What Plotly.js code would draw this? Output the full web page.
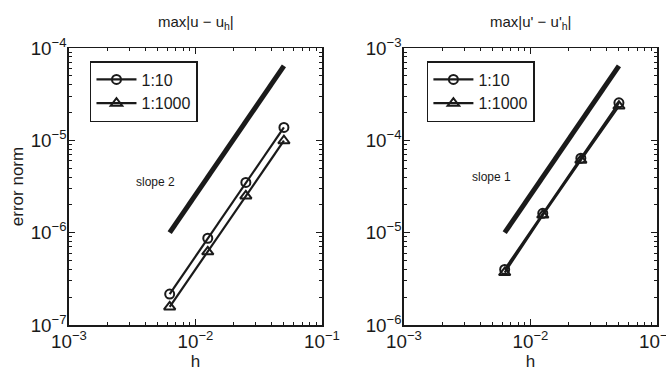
<!DOCTYPE html>
<html>
<head>
<meta charset="utf-8">
<script src="https://cdn.plot.ly/plotly-3.0.1.min.js"></script>
<style>html,body{margin:0;padding:0;background:#fff;}#chart{width:666px;height:374px;}</style>
</head>
<body>
<div id="chart"></div>
<script>
// Data
var h = [0.00625, 0.0125, 0.025, 0.05];
var errU_10 = [2.16e-7, 8.7e-7, 3.5e-6, 1.38e-5];
var errU_1000 = [1.57e-7, 6.2e-7, 2.5e-6, 9.9e-6];
var errDU_10 = [4.0e-6, 1.62e-5, 6.4e-5, 2.55e-4];
var errDU_1000 = [3.7e-6, 1.55e-5, 6.1e-5, 2.35e-4];
var slopeX = [0.00625, 0.05];
var slopeU = [1.0e-6, 6.4e-5];
var slopeDU = [1.0e-5, 6.4e-4];
var seriesNames = ['1:10', '1:1000'];
var titles = ['max|u \u2212 u<sub>h</sub>|', "max|u' \u2212 u'<sub>h</sub>|"];
var slopeLabels = ['slope 2', 'slope 1'];

var ink = '#1a1a1a';
var fontFam = 'Arial, "Liberation Sans", Helvetica, sans-serif';

function dataTrace(x, y, name, sym, xa, ya, leg) {
  return {x: x, y: y, name: name, xaxis: xa, yaxis: ya, legend: leg,
    mode: 'lines+markers', type: 'scatter',
    line: {color: ink, width: 2.2},
    marker: {symbol: sym, size: sym === 'circle-open' ? 9 : 10, color: ink, line: {width: 2, color: ink}}};
}
function slopeTrace(x, y, xa, ya) {
  return {x: x, y: y, xaxis: xa, yaxis: ya, mode: 'lines', type: 'scatter', showlegend: false,
    line: {color: ink, width: 5}};
}

var traces = [
  dataTrace(h, errU_10, seriesNames[0], 'circle-open', 'x', 'y', 'legend'),
  dataTrace(h, errU_1000, seriesNames[1], 'triangle-up-open', 'x', 'y', 'legend'),
  slopeTrace(slopeX, slopeU, 'x', 'y'),
  dataTrace(h, errDU_10, seriesNames[0], 'circle-open', 'x2', 'y2', 'legend2'),
  dataTrace(h, errDU_1000, seriesNames[1], 'triangle-up-open', 'x2', 'y2', 'legend2'),
  slopeTrace(slopeX, slopeDU, 'x2', 'y2')
];

function xAxis(dom, anchor) {
  return {type: 'log', domain: dom, anchor: anchor, range: [-3, -1], dtick: 1,
    exponentformat: 'power', showexponent: 'all', ticklabeloverflow: 'allow',
    ticks: 'inside', ticklen: 6, tickwidth: 1, tickcolor: ink, mirror: 'ticks',
    showline: true, linecolor: ink, linewidth: 1.5, showgrid: false, zeroline: false,
    minor: {dtick: 'D1', ticks: 'inside', ticklen: 3, tickwidth: 1, tickcolor: ink, showgrid: false},
    tickfont: {size: 15, color: ink, family: fontFam},
    title: {text: 'h', font: {size: 17, color: ink, family: fontFam}, standoff: 0}};
}
function yAxis(range, anchor, titleText) {
  var a = {type: 'log', domain: [0, 1], anchor: anchor, range: range, dtick: 1,
    exponentformat: 'power', showexponent: 'all', ticklabeloverflow: 'allow',
    ticks: 'inside', ticklen: 6, tickwidth: 1, tickcolor: ink, mirror: 'ticks',
    showline: true, linecolor: ink, linewidth: 1.5, showgrid: false, zeroline: false,
    minor: {dtick: 'D1', ticks: 'inside', ticklen: 3, tickwidth: 1, tickcolor: ink, showgrid: false},
    ticklabelstandoff: -2,
    tickfont: {size: 15, color: ink, family: fontFam}};
  if (titleText) a.title = {text: titleText, font: {size: 17, color: ink, family: fontFam}, standoff: 2};
  return a;
}
function legendCfg(x) {
  return {x: x, y: 0.953, xanchor: 'left', yanchor: 'top', xref: 'paper', yref: 'paper',
    bgcolor: '#fff', bordercolor: ink, borderwidth: 1.5,
    font: {size: 16, color: ink, family: fontFam}, tracegroupgap: 0, itemwidth: 40};
}

var layout = {
  width: 666, height: 374,
  margin: {l: 0, r: 0, t: 48, b: 49},
  paper_bgcolor: '#fff', plot_bgcolor: '#fff',
  font: {family: fontFam, color: ink},
  xaxis: xAxis([0.1036, 0.4835], 'y'),
  yaxis: yAxis([-7, -4], 'x', 'error norm'),
  xaxis2: xAxis([0.6066, 0.9865], 'y2'),
  yaxis2: yAxis([-6, -3], 'x2'),
  legend: legendCfg(0.1351),
  legend2: legendCfg(0.641),
  annotations: [
    {text: titles[0], xref: 'x domain', yref: 'paper', x: 0.5, y: 1, yshift: 26, showarrow: false,
     font: {size: 15, color: ink, family: fontFam}, yanchor: 'middle'},
    {text: titles[1], xref: 'x2 domain', yref: 'paper', x: 0.5, y: 1, yshift: 26, showarrow: false,
     font: {size: 15, color: ink, family: fontFam}, yanchor: 'middle'},
    {text: slopeLabels[0], xref: 'x', yref: 'y', x: -2.32, y: -5.45, showarrow: false,
     font: {size: 12, color: ink, family: fontFam}},
    {text: slopeLabels[1], xref: 'x2', yref: 'y2', x: -2.31, y: -4.40, showarrow: false,
     font: {size: 12, color: ink, family: fontFam}}
  ]
};

Plotly.newPlot('chart', traces, layout, {staticPlot: true, displayModeBar: false});
</script>
</body>
</html>
